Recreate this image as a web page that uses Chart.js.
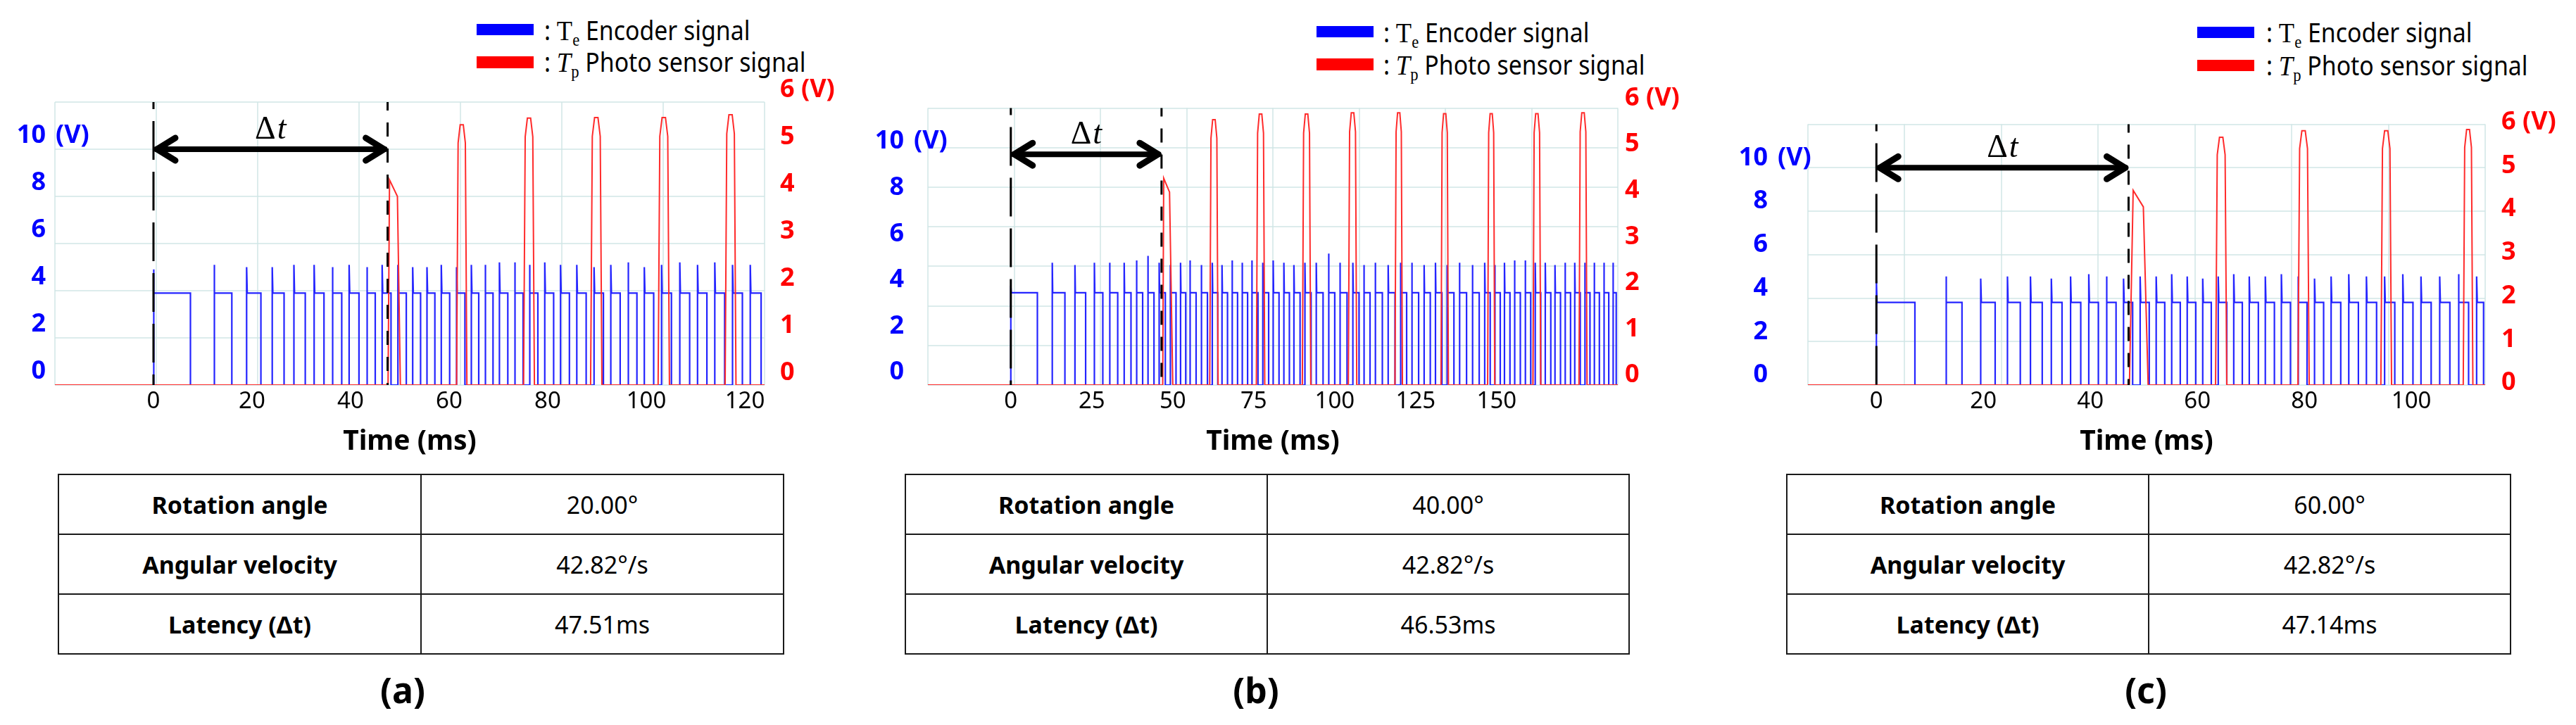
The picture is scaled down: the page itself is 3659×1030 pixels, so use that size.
<!DOCTYPE html>
<html>
<head>
<meta charset="utf-8">
<script src="https://cdn.jsdelivr.net/npm/chart.js"></script>
<style>
  html, body { margin: 0; padding: 0; background: #fff; }
  body { width: 3659px; height: 1030px; position: relative; overflow: hidden; font-family: 'Noto Sans', 'DejaVu Sans', sans-serif; }
  canvas.cv { position: absolute; }
  .sw { position: absolute; width: 81px; height: 16px; }
  .lt { position: absolute; font-size: 38px; line-height: 44px; white-space: nowrap; transform: scaleX(0.89); transform-origin: 0 50%; color: #000; }
  .lt .T { font-family: 'Liberation Serif', serif; font-size: 41px; }
  .lt sub { font-size: 0.62em; line-height: 0; vertical-align: -0.3em; }
  table.t { position: absolute; border-collapse: collapse; font-size: 34px; color: #000; table-layout: fixed; }
  table.t td { border: 2px solid #1a1a1a; text-align: center; height: 83px; padding: 0; }
  table.t td.k { font-weight: bold; }
  .pl { position: absolute; font-weight: bold; font-size: 50px; transform: translate(-50%, -50%); color: #000; }
</style>
</head>
<body>

<!-- legends -->
<div class="sw" style="left:677px;top:34px;background:#0000ff"></div>
<div class="sw" style="left:677px;top:80px;height:17px;background:#ff0000"></div>
<div class="lt" style="left:773px;top:20px">: <span class="T">T<sub>e</sub></span> Encoder signal</div>
<div class="lt" style="left:773px;top:65px">: <span class="T"><i>T</i><sub>p</sub></span> Photo sensor signal</div>

<div class="sw" style="left:1870px;top:37px;background:#0000ff"></div>
<div class="sw" style="left:1870px;top:83px;height:17px;background:#ff0000"></div>
<div class="lt" style="left:1965px;top:23px">: <span class="T">T<sub>e</sub></span> Encoder signal</div>
<div class="lt" style="left:1965px;top:69px">: <span class="T"><i>T</i><sub>p</sub></span> Photo sensor signal</div>

<div class="sw" style="left:3121px;top:38px;background:#0000ff"></div>
<div class="sw" style="left:3121px;top:85px;height:16px;background:#ff0000"></div>
<div class="lt" style="left:3219px;top:23px">: <span class="T">T<sub>e</sub></span> Encoder signal</div>
<div class="lt" style="left:3219px;top:70px">: <span class="T"><i>T</i><sub>p</sub></span> Photo sensor signal</div>

<canvas class="cv" id="ca" width="1215" height="570" style="left:0px;top:100px"></canvas>
<canvas class="cv" id="cb" width="1210" height="572" style="left:1225px;top:98px"></canvas>
<canvas class="cv" id="cc" width="1199" height="572" style="left:2460px;top:98px"></canvas>

<table class="t" id="ta" style="left:82px;top:673px;width:1032px"></table>
<table class="t" id="tb" style="left:1285px;top:673px;width:1030px"></table>
<table class="t" id="tc" style="left:2537px;top:673px;width:1030px"></table>

<div class="pl" style="left:572px;top:980px">(a)</div>
<div class="pl" style="left:1784px;top:980px">(b)</div>
<div class="pl" style="left:3048px;top:980px">(c)</div>

<script>
// ---------------- DATA ----------------
const leftTicks  = [0, 2, 4, 6, 8, 10];
const rightTicks = [0, 1, 2, 3, 4, 5, 6];

const tableKeys = ['Rotation angle', 'Angular velocity', 'Latency (\u0394t)'];
const tableValsA = ['20.00\u00B0', '42.82\u00B0/s', '47.51ms'];
const tableValsB = ['40.00\u00B0', '42.82\u00B0/s', '46.53ms'];
const tableValsC = ['60.00\u00B0', '42.82\u00B0/s', '47.14ms'];

// (a)
const xRangeA = [-20, 124];
const xTicksA = [0, 20, 40, 60, 80, 100, 120];
const markersA = [0, 47.51];
const encRiseA = [0, 12.3, 18.9, 24.1, 28.5, 32.6, 36.3, 39.7, 43.3, 46.4, 49.6, 52.6, 55.5, 58.4, 61.5, 64.5, 67.3, 70.2, 73.3, 76.3, 79.4, 82.6, 85.9, 89.4, 92.8, 96.3, 99.6, 103.1, 106.8, 110.4, 113.9, 117.5, 121.1];
const encFallA = [7.5, 15.9, 21.8, 26.5, 30.8, 34.6, 38.2, 41.7, 45.0, 48.2, 51.3, 54.2, 57.1, 60.1, 63.2, 66.0, 68.9, 71.9, 75.0, 78.0, 81.2, 84.4, 87.8, 91.3, 94.7, 98.1, 101.5, 105.1, 108.8, 112.3, 115.9, 119.5, 123.3];
const encSpikeA = [4.9, 5.1, 5.0, 5.0, 5.1, 5.1, 5.0, 5.1, 5.0, 5.1, 5.1, 5.0, 5.0, 5.1, 5.0, 5.1, 5.1, 5.2, 5.2, 5.1, 5.2, 5.1, 5.1, 5.0, 5.1, 5.2, 5.0, 5.1, 5.2, 5.1, 5.2, 5.1, 5.1];
const encLevelA = 3.9;
const bumpTA = [47.6, 47.9, 49.5, 50.1];
const bumpVA = [0, 4.35, 4.0, 0];
const photoRiseA = [61.5, 75.1, 88.7, 102.4, 116.0];
const photoFallA = [63.6, 77.3, 91.0, 104.7, 118.2];
const photoTopA  = [5.52, 5.66, 5.67, 5.67, 5.73];

// (b)
const xRangeB = [-25.6, 187.4];
const xTicksB = [0, 25, 50, 75, 100, 125, 150];
const markersB = [0, 46.53];
const encRiseB = [0, 12.8, 19.8, 25.8, 30.5, 35.0, 38.8, 42.3, 45.8, 49.2, 52.4, 55.3, 58.8, 62.2, 65.2, 68.3, 71.4, 74.4, 77.8, 81.0, 84.3, 87.4, 90.8, 94.3, 98.1, 101.6, 105.6, 109.0, 112.5, 116.5, 120.3, 123.8, 127.6, 131.1, 134.7, 138.5, 142.5, 146.3, 149.4, 152.4, 155.5, 158.8, 161.9, 165.0, 168.0, 171.1, 174.1, 177.2, 180.1, 183.1, 185.9];
const encFallB = [8.2, 16.7, 23.1, 28.4, 33.0, 37.1, 40.7, 44.2, 47.7, 51.0, 54.0, 57.2, 60.7, 63.9, 66.9, 70.0, 73.1, 76.3, 79.6, 82.8, 86.0, 89.3, 92.7, 96.4, 100.0, 103.8, 107.5, 110.9, 114.7, 118.6, 122.2, 125.9, 129.5, 133.1, 136.8, 140.7, 144.6, 148.0, 151.1, 154.1, 157.3, 160.5, 163.6, 166.7, 169.7, 172.8, 175.8, 178.8, 181.7, 184.6, 186.9];
const encSpikeB = [4.3, 5.3, 5.2, 5.3, 5.3, 5.3, 5.4, 5.6, 5.3, 5.2, 5.3, 5.4, 5.2, 5.3, 5.2, 5.4, 5.3, 5.4, 5.3, 5.4, 5.3, 5.2, 5.3, 5.3, 5.7, 5.3, 5.3, 5.2, 5.3, 5.2, 5.3, 5.3, 5.2, 5.3, 5.2, 5.3, 5.2, 5.3, 5.2, 5.3, 5.4, 5.4, 5.3, 5.3, 5.2, 5.3, 5.3, 5.3, 5.3, 5.3, 5.3];
const encLevelB = 4.0;
const bumpTB = [46.9, 47.2, 49.0, 50.0];
const bumpVB = [0, 4.48, 4.18, 0];
const photoRiseB = [61.4, 75.8, 90.0, 104.2, 118.6, 132.8, 147.2, 161.2, 175.4];
const photoFallB = [64.0, 78.4, 92.6, 106.8, 120.9, 135.1, 149.4, 163.6, 177.9];
const photoTopB  = [5.75, 5.87, 5.87, 5.9, 5.9, 5.88, 5.88, 5.88, 5.9];

// (c)
const xRangeC = [-12.8, 113.8];
const xTicksC = [0, 20, 40, 60, 80, 100];
const markersC = [0, 47.14];
const encRiseC = [0, 13.0, 19.5, 24.5, 28.8, 32.7, 36.3, 39.7, 43.0, 46.2, 49.3, 52.3, 55.2, 58.1, 61.0, 63.9, 66.8, 69.7, 72.7, 75.7, 78.8, 81.9, 85.0, 88.3, 91.6, 95.0, 98.4, 101.8, 105.3, 108.8, 112.2];
const encFallC = [7.2, 16.0, 22.2, 26.9, 31.0, 34.7, 38.2, 41.5, 44.8, 47.9, 51.0, 53.9, 56.8, 59.7, 62.6, 65.5, 68.4, 71.4, 74.4, 77.4, 80.5, 83.6, 86.8, 90.1, 93.5, 96.9, 100.3, 103.7, 107.2, 110.7, 113.5];
const encSpikeC = [4.8, 5.0, 4.9, 5.0, 5.0, 4.9, 5.0, 5.1, 5.0, 4.9, 5.0, 5.0, 5.1, 5.0, 4.9, 5.0, 5.1, 5.0, 5.0, 5.1, 5.0, 4.9, 5.0, 5.1, 5.0, 5.0, 5.1, 5.0, 5.0, 5.1, 5.0];
const encLevelC = 3.8;
const bumpTC = [47.3, 48.0, 49.9, 50.8];
const bumpVC = [0, 4.48, 4.1, 0];
const photoRiseC = [63.4, 78.8, 94.3, 109.7];
const photoFallC = [65.5, 80.9, 96.3, 111.5];
const photoTopC  = [5.7, 5.85, 5.85, 5.88];

// ---------------- BUILDERS ----------------
const FONT = "'Noto Sans', 'DejaVu Sans', sans-serif";
const GRID = 'rgba(205,228,228,0.7)';

function encoderPoints(rise, fall, spike, level, xr) {
  const pts = [{x: xr[0], y: 0}];
  for (let i = 0; i < rise.length; i++) {
    pts.push({x: rise[i], y: 0}, {x: rise[i], y: spike[i]}, {x: rise[i] + 0.12, y: level},
             {x: fall[i], y: level}, {x: fall[i], y: 0});
  }
  pts.push({x: xr[1], y: 0});
  return pts;
}
function photoPoints(bt, bv, rise, fall, top, xr) {
  const pts = [{x: xr[0], y: 0}];
  bt.forEach((t, i) => pts.push({x: t, y: bv[i]}));
  for (let i = 0; i < rise.length; i++) {
    const r = rise[i], f = fall[i], h = top[i], w = f - r;
    pts.push({x: r, y: 0}, {x: r + w * 0.15, y: h * 0.93}, {x: r + w * 0.35, y: h},
             {x: f - w * 0.35, y: h}, {x: f - w * 0.15, y: h * 0.93}, {x: f, y: 0});
  }
  pts.push({x: xr[1], y: 0});
  return pts;
}
function fillTable(id, vals) {
  const t = document.getElementById(id);
  tableKeys.forEach((k, i) => {
    const tr = document.createElement('tr');
    const a = document.createElement('td'); a.className = 'k'; a.textContent = k;
    const b = document.createElement('td'); b.textContent = vals[i];
    tr.appendChild(a); tr.appendChild(b); t.appendChild(tr);
  });
}

const markerPlugin = {
  id: 'markers',
  afterDatasetsDraw(chart, args, opts) {
    const {ctx, chartArea} = chart;
    const x = chart.scales.x, yR = chart.scales.yR;
    const x0 = x.getPixelForValue(opts.t[0]), x1 = x.getPixelForValue(opts.t[1]);
    ctx.save();
    ctx.strokeStyle = '#000';
    ctx.lineWidth = 3;
    ctx.setLineDash([55, 17]); ctx.lineDashOffset = 45;
    ctx.beginPath(); ctx.moveTo(x0, chartArea.top); ctx.lineTo(x0, chartArea.bottom); ctx.stroke();
    ctx.setLineDash([20, 17]); ctx.lineDashOffset = 8;
    ctx.beginPath(); ctx.moveTo(x1, chartArea.top); ctx.lineTo(x1, chartArea.bottom); ctx.stroke();
    ctx.setLineDash([]);
    const ya = yR.getPixelForValue(opts.arrowV);
    ctx.lineCap = 'round'; ctx.lineJoin = 'round';
    ctx.lineWidth = 8;
    ctx.beginPath(); ctx.moveTo(x0 + 4, ya); ctx.lineTo(x1 - 4, ya); ctx.stroke();
    ctx.lineWidth = 9;
    ctx.beginPath(); ctx.moveTo(x0 + 31, ya - 16); ctx.lineTo(x0 + 5, ya); ctx.lineTo(x0 + 31, ya + 16); ctx.stroke();
    ctx.beginPath(); ctx.moveTo(x1 - 31, ya - 16); ctx.lineTo(x1 - 5, ya); ctx.lineTo(x1 - 31, ya + 16); ctx.stroke();
    const f1 = "46px 'Liberation Serif', 'DejaVu Serif', serif";
    const f2 = "italic 46px 'Liberation Serif', 'DejaVu Serif', serif";
    ctx.font = f1; const w1 = ctx.measureText('\u0394').width;
    ctx.font = f2; const w2 = ctx.measureText('t').width;
    const xs = (x0 + x1) / 2 - (w1 + w2 + 2) / 2;
    const yb = ya - 15;
    ctx.fillStyle = '#000'; ctx.textBaseline = 'alphabetic'; ctx.textAlign = 'left';
    ctx.font = f1; ctx.fillText('\u0394', xs, yb);
    ctx.font = f2; ctx.fillText('t', xs + w1 + 2, yb);
    ctx.restore();
  }
};
const unitPlugin = {
  id: 'unitV',
  afterDraw(chart) {
    const s = chart.scales.yL, o = s.options.ticks, ctx = chart.ctx;
    ctx.save();
    ctx.font = "bold 36px " + FONT;
    ctx.fillStyle = '#0000ff'; ctx.textAlign = 'left'; ctx.textBaseline = 'middle';
    ctx.fillText('(V)', s.right - o.padding + 14, s.getPixelForValue(10) + o.labelOffset);
    ctx.restore();
  }
};

function makeChart(p) {
  return new Chart(document.getElementById(p.id), {
    type: 'line',
    data: {datasets: [
      {label: 'Tp Photo sensor signal', data: p.photo, yAxisID: 'yR', borderColor: '#ff2b2b', borderWidth: 2, pointRadius: 0, tension: 0, order: 0},
      {label: 'Te Encoder signal', data: p.enc, yAxisID: 'yL', borderColor: '#2424ff', borderWidth: 2.2, pointRadius: 0, tension: 0, order: 1}
    ]},
    options: {
      responsive: false, animation: false, devicePixelRatio: 1, parsing: false, normalized: true,
      layout: {padding: {top: p.padTop, left: 0, right: 0, bottom: 0}},
      plugins: {legend: {display: false}, tooltip: {enabled: false}, markers: {t: p.markers, arrowV: 5}},
      scales: {
        x: {type: 'linear', position: 'bottom', min: p.xr[0], max: p.xr[1], bounds: 'data',
            afterBuildTicks: s => { s.ticks = p.xticks.map(v => ({value: v})); },
            ticks: {color: '#000', font: {family: FONT, size: 33}, padding: 4, maxRotation: 0, autoSkip: false, callback: v => String(v)},
            grid: {display: false, drawTicks: false}, border: {display: false},
            title: {display: true, text: 'Time (ms)', color: '#000', font: {family: FONT, size: 39, weight: 'bold'}, padding: {top: 0, bottom: 19}},
            afterFit: s => { s.height = p.xH; }},
        gx: {type: 'linear', position: 'bottom', min: 0, max: p.gridCols, ticks: {display: false, stepSize: 1},
             grid: {color: GRID, lineWidth: 2, drawTicks: false}, border: {display: false}, afterFit: s => { s.height = 0; }},
        yL: {type: 'linear', position: 'left', min: 0, max: 12, bounds: 'data',
             afterBuildTicks: s => { s.ticks = leftTicks.map(v => ({value: v})); },
             ticks: {color: '#0000ff', font: {family: FONT, size: 36, weight: 'bold'}, padding: p.padL, labelOffset: p.offL, callback: v => String(v)},
             grid: {display: false, drawTicks: false}, border: {display: false}, afterFit: s => { s.width = p.wL; }},
        gy: {type: 'linear', position: 'left', min: 0, max: p.gridRows, ticks: {display: false, stepSize: 1},
             grid: {color: GRID, lineWidth: 2, drawTicks: false}, border: {display: false}, afterFit: s => { s.width = 0; }},
        yR: {type: 'linear', position: 'right', min: 0, max: 6, bounds: 'data',
             afterBuildTicks: s => { s.ticks = rightTicks.map(v => ({value: v})); },
             ticks: {color: '#ff0000', font: {family: FONT, size: 36, weight: 'bold'}, padding: p.padR, labelOffset: p.offR,
                     callback: v => (v === 6 ? '6 (V)' : String(v))},
             grid: {display: false, drawTicks: false}, border: {display: false}, afterFit: s => { s.width = p.wR; }}
      }
    },
    plugins: [markerPlugin, unitPlugin]
  });
}

makeChart({id: 'ca', xr: xRangeA, xticks: xTicksA, markers: markersA,
  enc: encoderPoints(encRiseA, encFallA, encSpikeA, encLevelA, xRangeA),
  photo: photoPoints(bumpTA, bumpVA, photoRiseA, photoFallA, photoTopA, xRangeA),
  padTop: 45, xH: 123, wL: 78, wR: 129, padL: 13, padR: 22, offL: -19, offR: -17, gridCols: 7, gridRows: 6});
makeChart({id: 'cb', xr: xRangeB, xticks: xTicksB, markers: markersB,
  enc: encoderPoints(encRiseB, encFallB, encSpikeB, encLevelB, xRangeB),
  photo: photoPoints(bumpTB, bumpVB, photoRiseB, photoFallB, photoTopB, xRangeB),
  padTop: 45, xH: 123, wL: 93, wR: 137, padL: 34, padR: 10, offL: -18, offR: -14, gridCols: 8, gridRows: 7});
makeChart({id: 'cc', xr: xRangeC, xticks: xTicksC, markers: markersC,
  enc: encoderPoints(encRiseC, encFallC, encSpikeC, encLevelC, xRangeC),
  photo: photoPoints(bumpTC, bumpVC, photoRiseC, photoFallC, photoTopC, xRangeC),
  padTop: 45, xH: 123, wL: 108, wR: 129, padL: 57, padR: 23, offL: -14, offR: -3, gridCols: 7, gridRows: 6});

fillTable('ta', tableValsA);
fillTable('tb', tableValsB);
fillTable('tc', tableValsC);
</script>
</body>
</html>
